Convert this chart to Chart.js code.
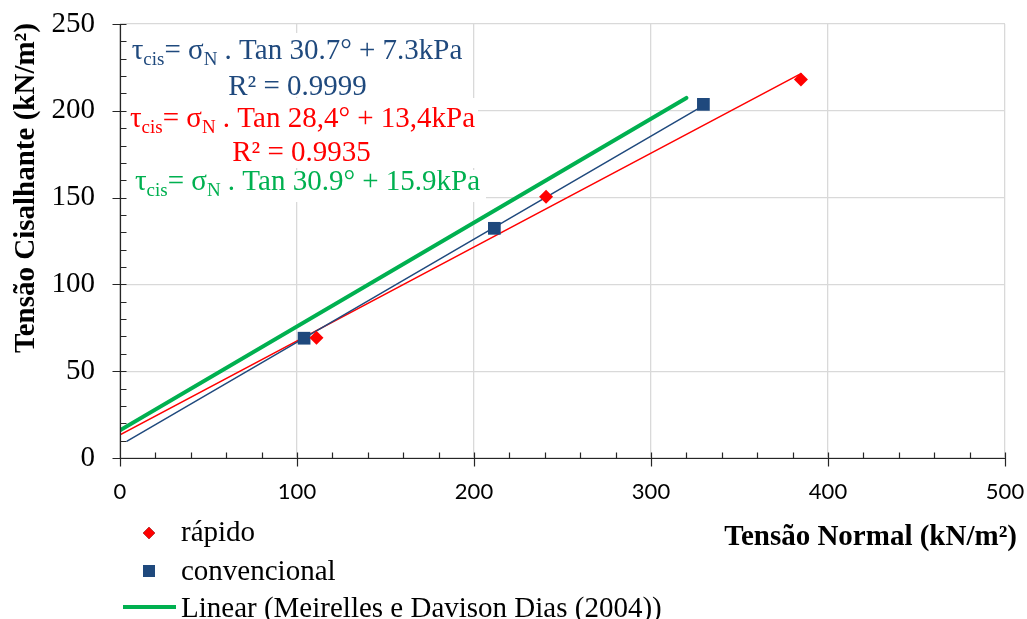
<!DOCTYPE html>
<html>
<head>
<meta charset="utf-8">
<script src="https://cdn.jsdelivr.net/npm/chart.js@4.4.0/dist/chart.umd.min.js"></script>
<style>
  body { margin: 0; background: #fff; }
  #wrap { width: 1027px; height: 619px; }
</style>
</head>
<body>
<div id="wrap"><canvas id="grafico" width="1027" height="619"></canvas></div>
<script>
// ensaio rápido
const rapidoX = [111, 240.7, 384.7];
const rapidoY = [69.3, 150.5, 218.1];
// ensaio convencional
const convX = [104, 211.5, 329.6];
const convY = [69, 132.3, 203.7];

// envoltórias: [convencional, rápido, Meirelles e Davison Dias (2004)]
const envAngulo = [30.7, 28.4, 30.9];   // graus
const envCoesao = [7.3, 13.4, 15.9];    // kPa
const envDecimal = ['.', ',', '.'];
const envR2 = ['0.9999', '0.9935', null];
const envXini = [4, 0, 0];
const envXfim = [329.6, 384.7, 320];

const xTicks = [0, 100, 200, 300, 400, 500];
const yTicks = [0, 50, 100, 150, 200, 250];

const legendaNomes = ['rápido', 'convencional', 'Linear (Meirelles e Davison Dias (2004))'];

const AZUL = '#1F497D', VERMELHO = '#FF0000', VERDE = '#00B050';
const coresEnv = [AZUL, VERMELHO, VERDE];
const largEnv = [1.5, 1.5, 4];
const SERIF = '"Liberation Serif", "Times New Roman", serif';

function reta(i) {
    const tg = Math.tan(envAngulo[i] * Math.PI / 180);
    return [envXini[i], envXfim[i]].map(x => ({ x: x, y: tg * x + envCoesao[i] }));
}

function pontos(xs, ys) {
    return xs.map((x, i) => ({ x: x, y: ys[i] }));
}

function fmt(v, sep) {
    return v.toFixed(1).replace('.', sep);
}

// tamanho fixo dos eixos, sem folga extra para os rótulos das pontas
function fixaEixo(larg, alt) {
    return s => {
        if (larg) s.width = larg;
        if (alt) s.height = alt;
        s.paddingTop = 0;
        s.paddingBottom = 0;
        s.paddingLeft = 0;
        s.paddingRight = 0;
    };
}

// caixas com as equações das envoltórias
const equacoes = {
    id: 'equacoes',
    beforeDatasetsDraw(chart) {
        const ctx = chart.ctx;
        const caixas = [[121, 33, 351, 64], [121, 98, 357, 70], [121, 170, 365, 32]];
        const linhas = [[297, 59, 297.5, 95], [302.5, 127, 301.5, 161], [307.5, 190, 0, 0]];
        ctx.save();
        ctx.fillStyle = '#fff';
        caixas.forEach(c => ctx.fillRect(c[0], c[1], c[2], c[3]));
        for (let i = 0; i < 3; i++) {
            const partes = [
                ['τ', false], ['cis', true], ['= σ', false], ['N', true],
                [' . Tan ' + fmt(envAngulo[i], envDecimal[i]) + '° + ' + fmt(envCoesao[i], envDecimal[i]) + 'kPa', false]
            ];
            let w = 0;
            partes.forEach(p => {
                ctx.font = (p[1] ? '19px ' : '29px ') + SERIF;
                w += ctx.measureText(p[0]).width;
            });
            let x = linhas[i][0] - w / 2;
            const base = linhas[i][1];
            ctx.fillStyle = coresEnv[i];
            ctx.textAlign = 'left';
            ctx.textBaseline = 'alphabetic';
            partes.forEach(p => {
                ctx.font = (p[1] ? '19px ' : '29px ') + SERIF;
                ctx.fillText(p[0], x, p[1] ? base + 6 : base);
                x += ctx.measureText(p[0]).width;
            });
            if (envR2[i]) {
                ctx.font = '29px ' + SERIF;
                ctx.textAlign = 'center';
                ctx.fillText('R² = ' + envR2[i], linhas[i][2], linhas[i][3]);
            }
        }
        ctx.restore();
    }
};

// eixos com marcas principais e secundárias, títulos e legenda
const eixos = {
    id: 'eixos',
    afterDatasetsDraw(chart) {
        const { ctx, chartArea: a, scales: { x, y } } = chart;
        const x0 = Math.round(x.getPixelForValue(0)) + 0.5;
        const y0 = Math.round(y.getPixelForValue(0)) + 0.5;
        ctx.save();
        ctx.strokeStyle = '#262626';
        ctx.lineWidth = 1.2;
        ctx.beginPath();
        ctx.moveTo(x0, a.top);
        ctx.lineTo(x0, y0);
        ctx.lineTo(a.right, y0);
        for (let v = 0; v <= 500; v += 20) {
            const px = Math.round(x.getPixelForValue(v)) + 0.5;
            if (v % 100 === 0) { ctx.moveTo(px, y0 - 6); ctx.lineTo(px, y0 + 8); }
            else { ctx.moveTo(px, y0 - 6); ctx.lineTo(px, y0); }
        }
        for (let v = 0; v <= 250; v += 10) {
            const py = Math.round(y.getPixelForValue(v)) + 0.5;
            if (v % 50 === 0) { ctx.moveTo(x0 - 8, py); ctx.lineTo(x0 + 6, py); }
            else { ctx.moveTo(x0, py); ctx.lineTo(x0 + 6, py); }
        }
        ctx.stroke();

        ctx.fillStyle = '#000';
        ctx.font = 'bold 29px ' + SERIF;
        ctx.textAlign = 'right';
        ctx.textBaseline = 'alphabetic';
        ctx.fillText('Tensão Normal (kN/m²)', 1017, 545);
        ctx.save();
        ctx.translate(34, 188);
        ctx.rotate(-Math.PI / 2);
        ctx.textAlign = 'center';
        ctx.fillText('Tensão Cisalhante (kN/m²)', 0, 0);
        ctx.restore();

        // legenda
        const h = Chart.helpers;
        h.drawPoint(ctx, { pointStyle: 'rectRot', radius: 6, rotation: 0, borderWidth: 0 }, 149, 533);
        ctx.fillStyle = VERMELHO;
        ctx.fill();
        ctx.beginPath();
        ctx.fillStyle = AZUL;
        ctx.fillRect(143, 565, 12, 12);
        ctx.strokeStyle = VERDE;
        ctx.lineWidth = 4;
        ctx.beginPath();
        ctx.moveTo(123, 607);
        ctx.lineTo(176, 607);
        ctx.stroke();
        ctx.fillStyle = '#000';
        ctx.font = '29px ' + SERIF;
        ctx.textAlign = 'left';
        ctx.fillText(legendaNomes[0], 181, 541);
        ctx.fillText(legendaNomes[1], 181, 580);
        ctx.fillText(legendaNomes[2], 181, 617);
        ctx.restore();
    }
};

new Chart(document.getElementById('grafico'), {
    type: 'scatter',
    data: {
        datasets: [
            {
                label: legendaNomes[0],
                data: pontos(rapidoX, rapidoY),
                pointStyle: 'rectRot',
                pointRadius: 7,
                pointBackgroundColor: VERMELHO,
                pointBorderWidth: 0,
                showLine: false
            },
            {
                label: legendaNomes[1],
                data: pontos(convX, convY),
                pointStyle: 'rect',
                pointRadius: 9,
                pointBackgroundColor: AZUL,
                pointBorderWidth: 0,
                showLine: false
            },
            ...[0, 1, 2].map(i => ({
                label: i === 2 ? legendaNomes[2] : 'Linear (' + legendaNomes[1 - i] + ')',
                data: reta(i),
                showLine: true,
                borderColor: coresEnv[i],
                borderWidth: largEnv[i],
                pointRadius: 0,
                borderCapStyle: 'round',
                fill: false
            }))
        ]
    },
    options: {
        responsive: false,
        animation: false,
        devicePixelRatio: 1,
        layout: { padding: { top: 24, right: 22, left: 0, bottom: 0 } },
        plugins: {
            legend: { display: false },
            tooltip: { enabled: false }
        },
        scales: {
            x: {
                type: 'linear',
                min: xTicks[0],
                max: xTicks[xTicks.length - 1],
                afterFit: fixaEixo(0, 161),
                afterBuildTicks: s => { s.ticks = xTicks.map(v => ({ value: v })); },
                ticks: {
                    padding: 21,
                    maxRotation: 0,
                    color: '#000',
                    font: { family: 'Lato', size: 22 }
                },
                grid: { color: '#d9d9d9', lineWidth: 1.3, drawTicks: false },
                border: { display: false }
            },
            y: {
                min: yTicks[0],
                max: yTicks[yTicks.length - 1],
                afterFit: fixaEixo(120, 0),
                afterBuildTicks: s => { s.ticks = yTicks.map(v => ({ value: v })); },
                ticks: {
                    padding: 25,
                    color: '#000',
                    font: { family: 'Liberation Serif', size: 29 }
                },
                grid: { color: '#d9d9d9', lineWidth: 1.3, drawTicks: false },
                border: { display: false }
            }
        }
    },
    plugins: [equacoes, eixos]
});
</script>
</body>
</html>
